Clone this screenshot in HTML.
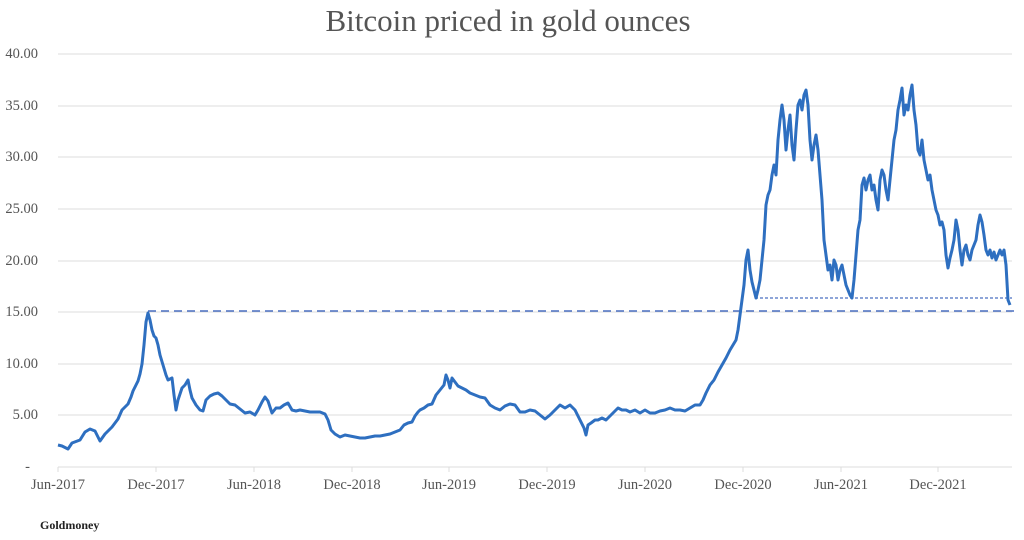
<!DOCTYPE html>
<html><head><meta charset="utf-8"><style>
body{margin:0;background:#fff;}
svg{display:block;font-family:"Liberation Serif",serif;}
</style></head><body>
<svg width="1024" height="540" viewBox="0 0 1024 540">
<text x="508" y="31" text-anchor="middle" font-size="31" fill="#555">Bitcoin priced in gold ounces</text>
<g stroke="#dcdcdc" stroke-width="1">
<line x1="58" x2="1012" y1="54" y2="54"/><line x1="58" x2="1012" y1="106" y2="106"/>
<line x1="58" x2="1012" y1="157" y2="157"/><line x1="58" x2="1012" y1="209" y2="209"/>
<line x1="58" x2="1012" y1="261" y2="261"/><line x1="58" x2="1012" y1="312" y2="312"/>
<line x1="58" x2="1012" y1="364" y2="364"/><line x1="58" x2="1012" y1="415" y2="415"/>
<line x1="58" x2="1012" y1="467" y2="467"/>
</g>
<g stroke="#dcdcdc"><line x1="58" x2="58" y1="467" y2="472"/><line x1="156" x2="156" y1="467" y2="472"/><line x1="254" x2="254" y1="467" y2="472"/><line x1="352" x2="352" y1="467" y2="472"/><line x1="449" x2="449" y1="467" y2="472"/><line x1="547" x2="547" y1="467" y2="472"/><line x1="645" x2="645" y1="467" y2="472"/><line x1="743" x2="743" y1="467" y2="472"/><line x1="841" x2="841" y1="467" y2="472"/><line x1="938" x2="938" y1="467" y2="472"/></g>
<g font-size="14.5" fill="#555" text-anchor="end">
<text x="38" y="58">40.00</text><text x="38" y="110">35.00</text><text x="38" y="161">30.00</text>
<text x="38" y="213">25.00</text><text x="38" y="265">20.00</text><text x="38" y="316">15.00</text>
<text x="38" y="368">10.00</text><text x="38" y="419">5.00</text><text x="30" y="471">-</text>
</g>
<g font-size="14.5" fill="#555" text-anchor="middle">
<text x="58" y="489">Jun-2017</text><text x="156" y="489">Dec-2017</text><text x="254" y="489">Jun-2018</text>
<text x="352" y="489">Dec-2018</text><text x="449" y="489">Jun-2019</text><text x="547" y="489">Dec-2019</text>
<text x="645" y="489">Jun-2020</text><text x="743" y="489">Dec-2020</text><text x="841" y="489">Jun-2021</text>
<text x="938" y="489">Dec-2021</text>
</g>
<text x="40" y="529" font-size="12" fill="#222" font-weight="bold">Goldmoney</text>
<line x1="148" x2="1015" y1="311" y2="311" stroke="#4a6fc0" stroke-width="1.5" stroke-dasharray="8,5"/>
<line x1="755" x2="1012" y1="298" y2="298" stroke="#4a6fc0" stroke-width="1.2" stroke-dasharray="3,2"/>
<polyline fill="none" stroke="#2e6fc0" stroke-width="3" stroke-linejoin="round" points="58,445 62,446 68,449 72,443 80,440 85,432 90,429 95,431 98,437 100,441 105,434 112,427 118,419 122,410 126,406 128,404 131,397 133,391 136,385 138,381 140,374 142,364 144,345 146,322 148,313 150,320 152,330 154,336 156,338 158,345 160,355 163,365 166,375 168,380 172,378 174,395 176,410 178,400 182,388 185,385 188,380 190,390 192,398 196,405 200,410 203,411 206,400 210,396 214,394 218,393 222,396 226,400 230,404 235,405 240,409 245,413 250,412 255,415 258,410 262,402 265,397 268,401 272,413 276,408 280,408 284,405 288,403 292,410 296,411 300,410 305,411 310,412 315,412 320,412 325,414 328,420 331,430 335,434 340,437 345,435 350,436 355,437 360,438 365,438 370,437 375,436 380,436 385,435 390,434 395,432 400,430 404,425 408,423 412,422 415,416 418,412 420,410 424,408 428,405 432,404 436,395 440,390 444,385 446,375 448,380 450,388 452,378 455,382 458,386 462,388 466,390 470,393 475,395 480,397 485,398 490,405 495,408 500,410 505,406 510,404 515,405 520,412 525,412 530,410 535,411 540,415 545,419 550,415 555,410 560,405 565,408 570,405 575,410 580,420 584,428 586,435 588,425 591,423 595,420 598,420 602,418 606,420 610,416 614,412 618,408 622,410 626,410 630,412 635,410 640,413 645,410 650,413 655,413 660,411 665,410 670,408 675,410 680,410 685,411 690,408 695,405 700,405 703,400 706,393 710,385 714,380 718,372 722,365 726,358 730,350 733,345 736,340 738,330 740,315 742,300 744,285 746,260 748,250 750,270 752,282 754,290 756,298 758,290 760,280 762,260 764,240 766,205 768,195 770,190 772,175 774,165 776,175 778,140 780,120 782,105 784,120 786,150 788,130 790,115 792,145 794,160 796,130 798,105 800,100 802,110 804,95 806,90 808,105 810,140 812,160 814,145 816,135 818,150 820,175 822,200 824,240 826,255 828,270 830,265 832,280 834,260 836,265 838,280 840,270 842,265 844,275 846,285 848,290 850,295 852,298 854,280 856,255 858,230 860,220 862,185 864,178 866,190 868,180 870,175 872,190 874,185 876,200 878,210 880,180 882,170 884,175 886,190 888,200 890,180 892,160 894,140 896,130 898,110 900,100 902,88 904,115 906,105 908,110 910,95 912,85 914,110 916,125 918,150 920,155 922,140 924,160 926,170 928,180 930,175 932,190 934,200 936,210 938,215 940,225 942,222 944,230 946,255 948,268 950,258 952,250 954,240 956,220 958,230 960,250 962,265 964,250 966,245 968,255 970,260 972,250 974,245 976,240 978,225 980,215 982,222 984,235 986,250 988,255 990,250 992,258 994,252 996,260 998,255 1000,250 1002,255 1004,250 1006,265 1008,300 1010,305"/>
</svg>
</body></html>
